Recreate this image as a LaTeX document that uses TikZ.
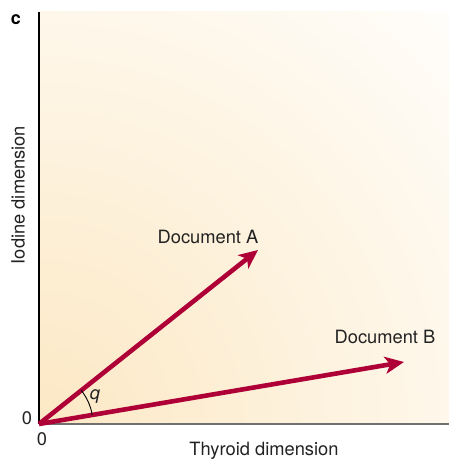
\documentclass[tikz,border=0pt]{standalone}
\usepackage{fontspec}
\setmainfont{TeX Gyre Heros}
\usetikzlibrary{arrows.meta, angles}
\definecolor{DocRed}{HTML}{AE0036}
\definecolor{BgWarm}{HTML}{FCE8C4}
\definecolor{BgLight}{HTML}{FFFEFC}
\definecolor{AxisGray}{HTML}{707070}
\definecolor{TextGray}{HTML}{222222}

\begin{document}
\begin{tikzpicture}[x=1pt, y=1pt,
    vec/.style={DocRed, line width=4.6pt, -{Stealth[length=19pt, width=17pt, inset=5pt]}},
    lbl/.style={TextGray, font=\fontsize{18.3}{20}\selectfont, inner sep=0pt}]
    \useasboundingbox (0,0) rectangle (449,459);

    % Background of the plot (warm corner at the origin)
    \begin{scope}
        \clip (39,35) rectangle (449,447);
        \shade[inner color=BgWarm, outer color=BgLight] (39,35) circle (600);
    \end{scope}

    % Axes
    \coordinate (O) at (39,35);
    \coordinate (Ytop) at (39,447);
    \coordinate (Xend) at (449,35);
    \draw[black, line width=1.2pt] (O) -- (Ytop);
    \draw[AxisGray, line width=1.6pt] (O) -- (Xend);

    % Panel letter
    \node[font=\fontsize{18}{20}\selectfont\bfseries, inner sep=0pt] (panel) at (16,439) {c};

    % Axis labels
    \node[lbl] (xlab) at (264,8) {Thyroid dimension};
    \node[lbl, rotate=90] (ylab) at (18,264) {Iodine dimension};
    \node[lbl] (zeroy) at (27,41) {0};
    \node[lbl] (zerox) at (42,20) {0};

    % Document vectors
    \coordinate (A) at (258,209);
    \coordinate (B) at (404,97);
    \draw[vec] (O) -- (A);
    \draw[vec] (O) -- (B);
    \node[lbl] (docA) at (208,222) {Document A};
    \node[lbl] (docB) at (385,122) {Document B};

    % Angle between the vectors
    \pic[draw, black, line width=0.9pt, angle radius=54pt] {angle = B--O--A};
    \node[lbl, font=\fontsize{18.3}{20}\selectfont\itshape] (q) at (95,62) {q};
\end{tikzpicture}
\end{document}
